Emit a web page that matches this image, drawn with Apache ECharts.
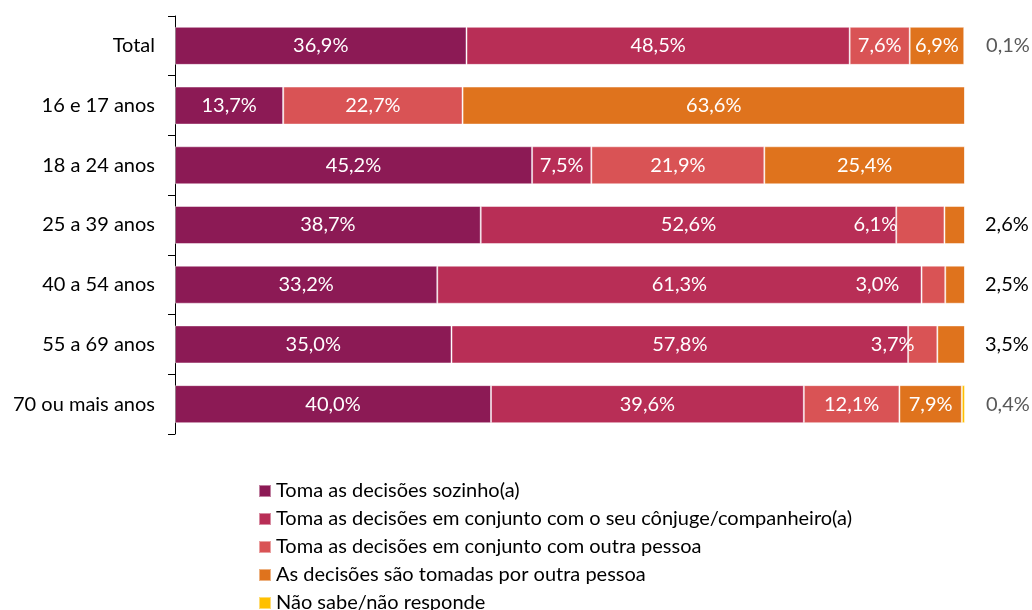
<!DOCTYPE html>
<html>
<head>
<meta charset="utf-8">
<script src="https://cdn.jsdelivr.net/npm/echarts@6/dist/echarts.min.js"></script>
<style>
  html, body { margin: 0; padding: 0; background: #fff; }
  #chart { width: 1032px; height: 610px; }
</style>
</head>
<body>
<div id="chart"></div>
<script>
var categories = ['Total', '16 e 17 anos', '18 a 24 anos', '25 a 39 anos', '40 a 54 anos', '55 a 69 anos', '70 ou mais anos'];
var seriesNames = [
	'Toma as decisões sozinho(a)',
	'Toma as decisões em conjunto com o seu cônjuge/companheiro(a)',
	'Toma as decisões em conjunto com outra pessoa',
	'As decisões são tomadas por outra pessoa',
	'Não sabe/não responde'
];
var sozinho = [36.9, 13.7, 45.2, 38.7, 33.2, 35.0, 40.0];
var conjuge = [48.5, 0, 7.5, 52.6, 61.3, 57.8, 39.6];
var outraPessoaJunto = [7.6, 22.7, 21.9, 6.1, 3.0, 3.7, 12.1];
var porOutraPessoa = [6.9, 63.6, 25.4, 2.6, 2.5, 3.5, 7.9];
var naoSabe = [0.1, 0, 0, 0, 0, 0, 0.4];

var colors = ['#8c1a55', '#b82e56', '#d95355', '#df731d', '#ffc000'];
var fontName = 'Lato';

function pct(v) {
	return v.toFixed(1).replace('.', ',') + '%';
}

// labels that were dragged in the original (small segments)
var outraShift = { 3: -45, 4: -56, 5: -30 };

function buildData(values, idx) {
	return values.map(function (v, i) {
		var item = { value: v, label: { show: v > 0 } };
		if (idx === 2 && outraShift[i] !== undefined) {
			item.label.offset = [outraShift[i], 0];
		}
		if (idx === 3 && v < 5) {
			item.label.position = 'right';
			item.label.distance = 20;
			item.label.color = '#000';
		}
		if (idx === 4) {
			item.label.position = 'right';
			item.label.distance = 21;
			item.label.color = '#595959';
		}
		return item;
	});
}

var allValues = [sozinho, conjuge, outraPessoaJunto, porOutraPessoa, naoSabe];

var chart = echarts.init(document.getElementById('chart'));

option = {
	animation: false,
	textStyle: { fontFamily: fontName },
	grid: { left: 175, right: 67, top: 16, bottom: 176 },
	xAxis: {
		type: 'value',
		min: 0,
		max: 100,
		show: false
	},
	yAxis: {
		type: 'category',
		inverse: true,
		data: categories,
		axisLine: { show: true, lineStyle: { color: '#000', width: 1 } },
		axisTick: { show: true, length: 7, lineStyle: { color: '#000' } },
		axisLabel: { fontSize: 20, color: '#000', margin: 20, fontFamily: fontName }
	},
	legend: {
		orient: 'vertical',
		left: 253,
		top: 476,
		height: 200,
		icon: 'rect',
		itemWidth: 12,
		itemHeight: 12,
		itemGap: 8,
		textStyle: { fontSize: 20, color: '#000', lineHeight: 20, fontFamily: fontName },
		data: seriesNames
	},
	series: allValues.map(function (vals, k) {
		return {
			name: seriesNames[k],
			type: 'bar',
			stack: 'total',
			barWidth: 38,
			itemStyle: { color: colors[k], borderColor: 'rgba(255,255,255,0.45)', borderWidth: 1 },
			label: {
				show: true,
				position: 'inside',
				color: '#fff',
				fontSize: 20,
				fontFamily: fontName,
				formatter: function (p) { return pct(p.value); }
			},
			data: buildData(vals, k)
		};
	})
};

chart.setOption(option);
</script>
</body>
</html>
